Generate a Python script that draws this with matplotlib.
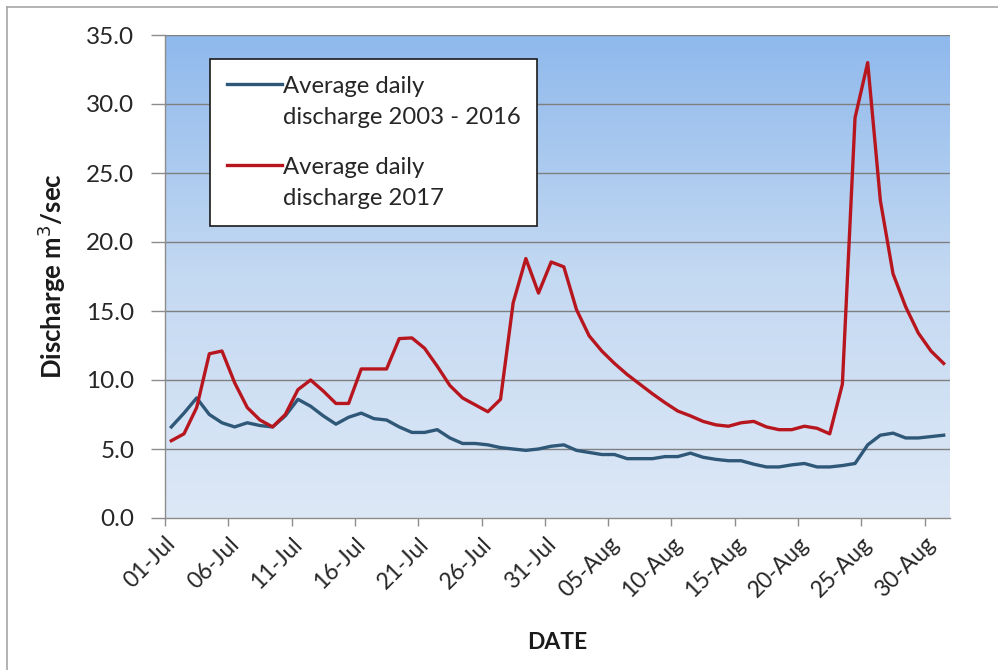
import matplotlib
matplotlib.use("Agg")
import matplotlib.pyplot as plt
import numpy as np
from matplotlib.lines import Line2D
from matplotlib.colors import LinearSegmentedColormap
from matplotlib.legend_handler import HandlerLine2D

# ---- data ----
avg_2003_2016 = [6.6, 7.6, 8.7, 7.5, 6.9, 6.6, 6.9, 6.7, 6.6, 7.4,
                 8.6, 8.1, 7.4, 6.8, 7.3, 7.6, 7.2, 7.1, 6.6, 6.2,
                 6.2, 6.4, 5.8, 5.4, 5.4, 5.3, 5.1, 5.0, 4.9, 5.0,
                 5.2, 5.3, 4.9, 4.75, 4.6, 4.6, 4.3, 4.3, 4.3, 4.45,
                 4.45, 4.7, 4.4, 4.25, 4.15, 4.15, 3.9, 3.7, 3.7, 3.85,
                 3.95, 3.7, 3.7, 3.8, 3.95, 5.3, 6.0, 6.15, 5.8, 5.8,
                 5.9, 6.0]
avg_2017 = [5.6, 6.1, 8.0, 11.9, 12.1, 9.8, 8.0, 7.1, 6.6, 7.5,
            9.3, 10.0, 9.2, 8.3, 8.3, 10.8, 10.8, 10.8, 13.0, 13.05,
            12.3, 11.0, 9.6, 8.7, 8.2, 7.7, 8.6, 15.6, 18.8, 16.3,
            18.55, 18.2, 15.1, 13.2, 12.1, 11.2, 10.4, 9.7, 9.0, 8.35,
            7.75, 7.4, 7.0, 6.75, 6.65, 6.9, 7.0, 6.6, 6.4, 6.4,
            6.65, 6.5, 6.1, 9.7, 29.0, 33.0, 23.0, 17.7, 15.3, 13.4,
            12.1, 11.2]
tick_labels = ["01-Jul", "06-Jul", "11-Jul", "16-Jul", "21-Jul", "26-Jul",
               "31-Jul", "05-Aug", "10-Aug", "15-Aug", "20-Aug", "25-Aug",
               "30-Aug"]
legend_labels = ["Average daily\ndischarge 2003 - 2016",
                 "Average daily\ndischarge 2017"]
y_ticks = [0, 5, 10, 15, 20, 25, 30, 35]

plt.rcParams['font.family'] = ['Lato', 'DejaVu Sans']


class TopLineHandler(HandlerLine2D):
    """Place the legend line level with the first text line."""
    def create_artists(self, legend, orig_handle, xdescent, ydescent,
                       width, height, fontsize, trans):
        artists = super().create_artists(legend, orig_handle, xdescent, ydescent,
                                         width, height, fontsize, trans)
        y = (height - ydescent) / 2.0 + 0.75 * fontsize
        for a in artists:
            yd = np.asarray(a.get_ydata(), dtype=float)
            a.set_ydata(np.full_like(yd, y))
        return artists


W, H = 998, 670
fig = plt.figure(figsize=(W / 100, H / 100), dpi=100)
fig.patch.set_facecolor("white")

left, right, top, bottom = 165, 950, 35, 518
ax = fig.add_axes([left / W, (H - bottom) / H, (right - left) / W, (bottom - top) / H])

n_days = len(avg_2017)
x = np.arange(n_days) + 0.5

# gradient background
cmap = LinearSegmentedColormap.from_list("bg", ["#dde8f6", "#c4d9f2", "#8fb9ec"])
grad = np.linspace(0, 1, 256).reshape(-1, 1)
ax.imshow(grad, extent=[0, n_days, 0, 35], origin="lower", aspect="auto",
          cmap=cmap, zorder=0)

for yv in y_ticks[1:]:
    ax.axhline(yv, color="#7f7f7f", lw=1.0, zorder=1)

l1, = ax.plot(x, avg_2003_2016, color="#2f5878", lw=2.4, zorder=3,
              solid_joinstyle="round")
l2, = ax.plot(x, avg_2017, color="#b8161e", lw=2.4, zorder=4,
              solid_joinstyle="round")

ax.set_xlim(0, n_days)
ax.set_ylim(0, 35)
ax.set_yticks(y_ticks)
ax.set_yticklabels([f"{v:.1f}" for v in y_ticks])
ax.set_xticks(np.arange(0, n_days, 5))
ax.set_xticklabels(tick_labels, rotation=45, ha="right", rotation_mode="anchor")

for s in ["top", "right"]:
    ax.spines[s].set_visible(False)
for s in ["left", "bottom"]:
    ax.spines[s].set_color("#8c8c8c")
    ax.spines[s].set_linewidth(1.0)

ax.tick_params(axis="y", length=10, width=1, color="#8c8c8c", labelsize=17.5,
               labelcolor="#262626", pad=12)
ax.tick_params(axis="x", length=6, width=1, color="#8c8c8c", labelsize=16.5,
               labelcolor="#262626", pad=5)

ax.set_ylabel("Discharge m$^3$/sec", fontsize=18.5, fontweight="bold",
              color="#1a1a1a", labelpad=13)
ax.set_xlabel("DATE", fontsize=16.5, fontweight="bold", color="#1a1a1a",
              labelpad=22)

leg = ax.legend([l1, l2], legend_labels, loc="upper left",
                bbox_to_anchor=((210 - left) / (right - left), 1 - (59 - top) / (bottom - top)),
                fontsize=17.2, frameon=True, fancybox=False, framealpha=1,
                edgecolor="#1a1a1a", handlelength=2.3, handletextpad=0.05,
                labelspacing=1.2, borderpad=0.7, borderaxespad=0,
                handler_map={Line2D: TopLineHandler()})
leg.get_frame().set_linewidth(1.2)
for t in leg.get_texts():
    t.set_color("#262626")
    t.set_linespacing(1.6)

# outer chart border
fig.add_artist(Line2D([7 / W, 7 / W], [0, 1 - 7 / H], transform=fig.transFigure,
                      color="#a6a6a6", lw=1.2))
fig.add_artist(Line2D([7 / W, 1], [1 - 7 / H, 1 - 7 / H], transform=fig.transFigure,
                      color="#a6a6a6", lw=1.2))

fig.savefig("out.png", dpi=100)
